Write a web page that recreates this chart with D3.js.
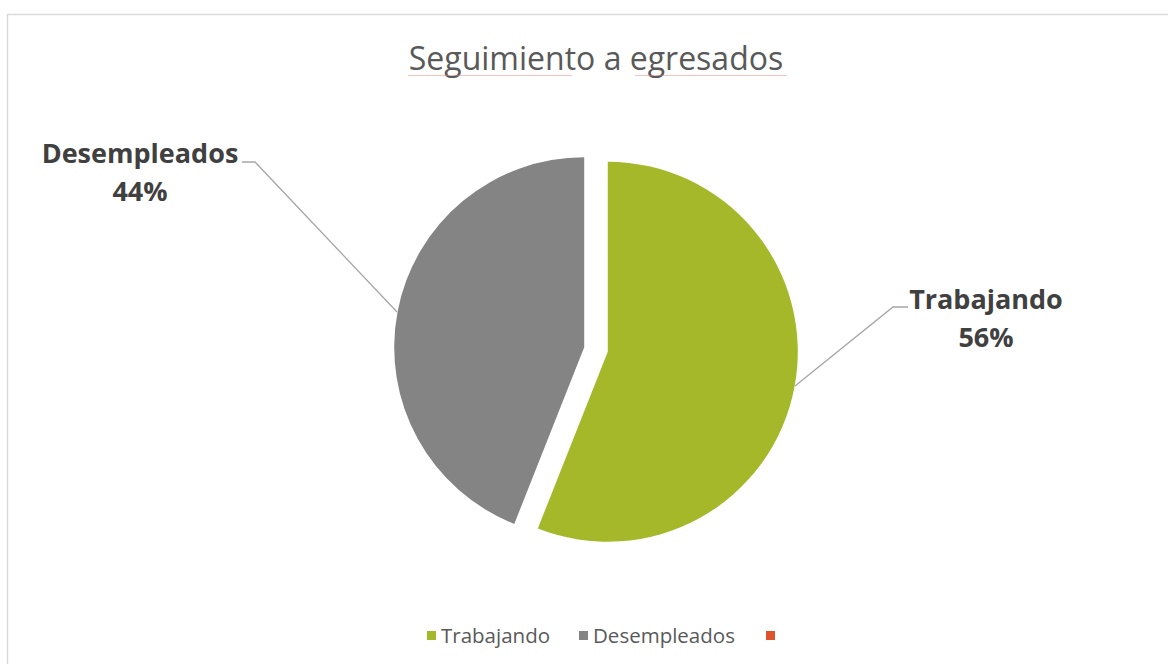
<!DOCTYPE html>
<html>
<head>
<meta charset="utf-8">
<script src="https://cdn.jsdelivr.net/npm/d3@7"></script>
<style>
  body { margin: 0; background: #fff; }
  svg { display: block; font-family: "Open Sans", sans-serif; }
</style>
</head>
<body>
<svg id="chart" width="1168" height="664"></svg>
<script>
// chart data
const categories = ["Trabajando", "Desempleados", ""];
const values = [56, 44, 0];
const colors = ["#a5b82a", "#848484", "#e0532a"];
const chartTitle = "Seguimiento a egresados";

const svg = d3.select("#chart");

// chart area border (right/bottom run off the page)
svg.append("rect")
  .attr("x", 7.5).attr("y", 14.5)
  .attr("width", 1180).attr("height", 680)
  .attr("fill", "none")
  .attr("stroke", "#d9d9d9")
  .attr("stroke-width", 1.5);

// title
svg.append("text")
  .attr("x", 596).attr("y", 70)
  .attr("text-anchor", "middle")
  .attr("font-size", 32)
  .attr("font-weight", 400)
  .attr("fill", "#595959")
  .text(chartTitle);

// spell-check squiggles under the title words
const squiggle = (x0, x1, y) => {
  let d = "M" + x0 + "," + y;
  for (let x = x0; x < x1; x += 2) d += "L" + (x + 1) + "," + (y + 1) + "L" + (x + 2) + "," + y;
  return d;
};
svg.append("path").attr("d", squiggle(408, 572, 75))
  .attr("fill", "none").attr("stroke", "#f08080").attr("stroke-opacity", 0.6).attr("stroke-width", 0.8);
svg.append("path").attr("d", squiggle(635, 786, 75))
  .attr("fill", "none").attr("stroke", "#f08080").attr("stroke-opacity", 0.6).attr("stroke-width", 0.8);

// pie
const cx = 596, cy = 349.5, radius = 190, explode = 12;
const pie = d3.pie().sort(null).value(d => d.value);
const arcs = pie(categories.map((c, i) => ({ name: c, value: values[i], color: colors[i] })));
const arc = d3.arc().innerRadius(0).outerRadius(radius);

const g = svg.append("g").attr("transform", `translate(${cx},${cy})`);

g.selectAll("path.slice")
  .data(arcs.filter(d => d.data.value > 0))
  .join("path")
  .attr("class", "slice")
  .attr("fill", d => d.data.color)
  .attr("transform", d => {
    const a = (d.startAngle + d.endAngle) / 2;
    return `translate(${Math.sin(a) * explode},${-Math.cos(a) * explode})`;
  })
  .attr("d", arc);

// data labels with leader lines
const total = d3.sum(values);
const labels = [
  { i: 0, x: 986, y: 309, line: [[795, 386], [893, 307], [908, 307]] },
  { i: 1, x: 140, y: 163, line: [[397, 312], [255, 162], [242, 162]] }
];

labels.forEach(l => {
  svg.append("path")
    .attr("d", d3.line()(l.line))
    .attr("fill", "none")
    .attr("stroke", "#a6a6a6")
    .attr("stroke-width", 1.3);
  const t = svg.append("text")
    .attr("x", l.x).attr("y", l.y)
    .attr("text-anchor", "middle")
    .attr("font-size", 27)
    .attr("font-weight", 700)
    .attr("fill", "#404040");
  t.append("tspan").attr("x", l.x).text(categories[l.i]);
  t.append("tspan").attr("x", l.x).attr("dy", 38)
    .text(Math.round(values[l.i] / total * 100) + "%");
});

// legend
const legendX = [427, 579, 766];
const legend = svg.append("g");
categories.forEach((c, i) => {
  legend.append("rect")
    .attr("x", legendX[i]).attr("y", 631)
    .attr("width", 9).attr("height", 9)
    .attr("fill", colors[i]);
  legend.append("text")
    .attr("x", legendX[i] + 14).attr("y", 643)
    .attr("font-size", 20.5)
    .attr("fill", "#595959")
    .text(c);
});
</script>
</body>
</html>
